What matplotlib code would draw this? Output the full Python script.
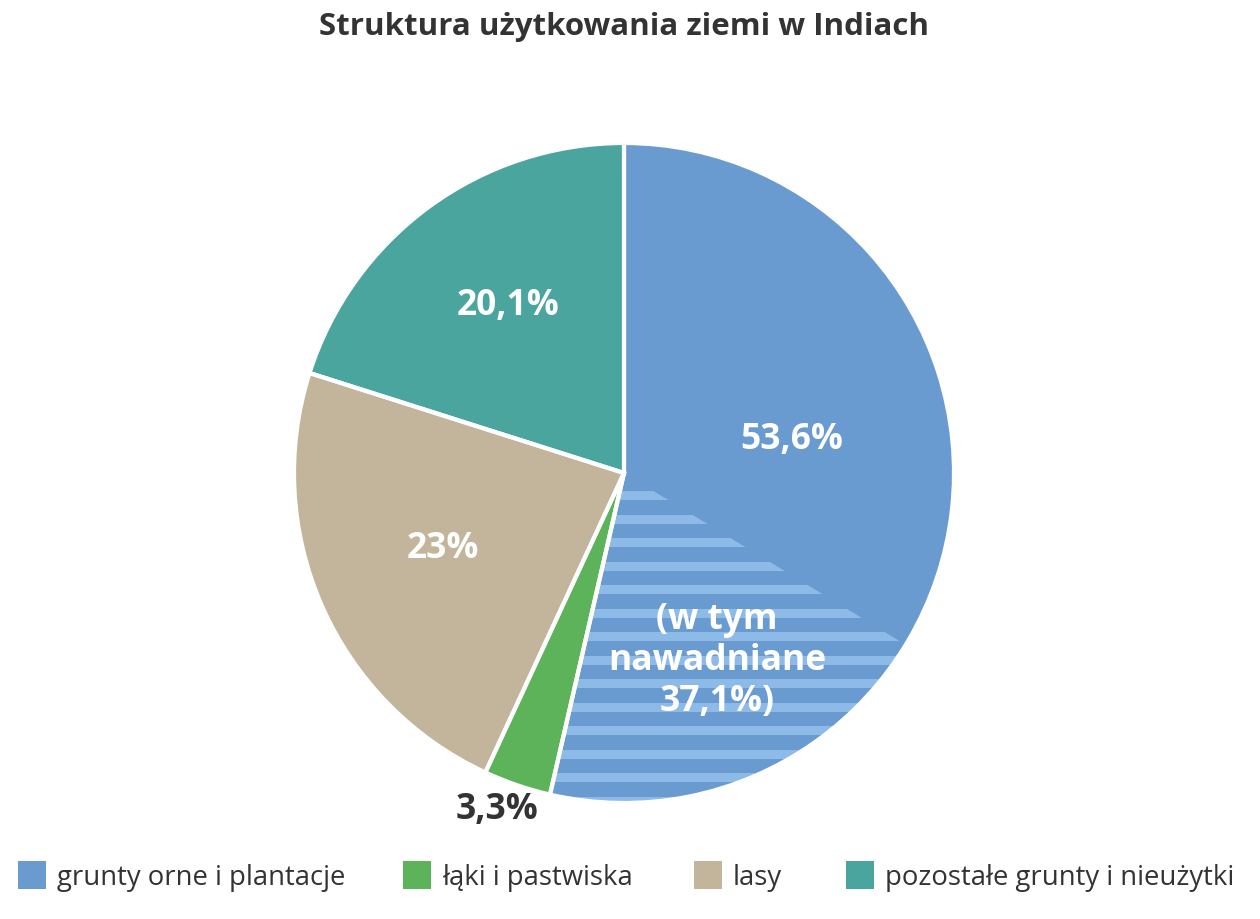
import matplotlib
matplotlib.use("Agg")
import matplotlib.pyplot as plt
from matplotlib.patches import Wedge, Rectangle

plt.rcParams['font.family'] = ['Open Sans', 'DejaVu Sans']

title = "Struktura użytkowania ziemi w Indiach"
categories = ["grunty orne i plantacje", "łąki i pastwiska", "lasy", "pozostałe grunty i nieużytki"]
values = [53.6, 3.3, 23.0, 20.1]
labels = ["53,6%", "3,3%", "23%", "20,1%"]
irrigated_share = 37.1  # % of arable land that is irrigated
irrigated_label = "(w tym\nnawadniane\n37,1%)"
colors = ["#6a9bd0", "#5cb35a", "#c2b59b", "#4aa59e"]
stripe_color = "#8dbae6"

W, H = 1260, 920
fig = plt.figure(figsize=(12.6, 9.2), dpi=100)
ax = fig.add_axes([0, 0, 1, 1])

cx, cy, R = 624, H - 474, 330

ax.pie(values, colors=colors, startangle=90, counterclock=False,
       center=(cx, cy), radius=R, frame=True, wedgeprops=dict(linewidth=0))

# irrigated sub-wedge at the end of the blue slice
blue_span = values[0] / 100 * 360
end_angle = 90 - blue_span
irr_span = blue_span * irrigated_share / 100
clip_w = Wedge((cx, cy), R, end_angle, end_angle + irr_span, facecolor='none',
               edgecolor='none', transform=ax.transData)
ax.add_patch(clip_w)
period, thick = 23.5, 9
y = cy - 18
while y > cy - R - 10:
    r = Rectangle((cx - R, y - thick), 2 * R, thick, facecolor=stripe_color,
                  edgecolor='none', zorder=2)
    ax.add_patch(r)
    r.set_clip_path(clip_w)
    y -= period

# white separators on top
ax.pie(values, startangle=90, counterclock=False, center=(cx, cy), radius=R,
       frame=True, wedgeprops=dict(facecolor='none', edgecolor='white',
                                   linewidth=3, zorder=3))
ax.set_xlim(0, W)
ax.set_ylim(0, H)
ax.set_aspect('equal')
ax.axis('off')

def px(x, y):
    return x, H - y

lab_pos = [(792, 440), (497, 810), (443, 549), (508, 306)]
lab_col = ['white', '#333333', 'white', 'white']
for (x, yy), t, c in zip(lab_pos, labels, lab_col):
    ax.text(*px(x, yy), t, ha='center', va='center', fontsize=25.5,
            fontweight='bold', color=c, zorder=5)
ax.text(*px(717, 661), irrigated_label, ha='center', va='center', fontsize=25.5,
        fontweight='bold', color='white', linespacing=1.2, zorder=5)

ax.text(*px(624, 27), title, ha='center', va='center', fontsize=22.5,
        fontweight='bold', color='#333333')

leg_x = [18, 403, 694, 846]
for x, cat, col in zip(leg_x, categories, colors):
    ax.add_patch(Rectangle(px(x, 890), 28, 28, facecolor=col, edgecolor='none'))
    ax.text(*px(x + 39, 878), cat, ha='left', va='center', fontsize=19.8,
            color='#333333')

fig.savefig("out.png", dpi=100)
